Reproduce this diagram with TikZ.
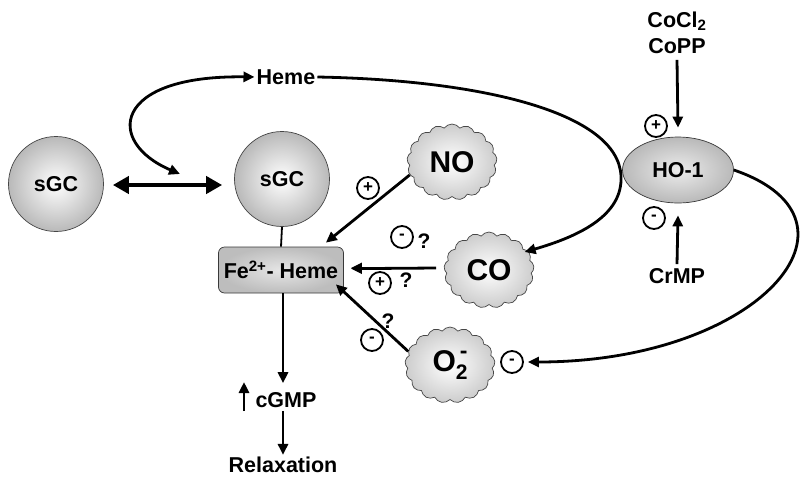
\documentclass[tikz,border=0pt]{standalone}
\usepackage{fontspec}
\setmainfont{Liberation Sans}
\usetikzlibrary{arrows.meta,shapes.symbols,shapes.geometric}
\newcommand\otwominus{O\rlap{\raisebox{-0.28em}{\fontsize{21}{21}\selectfont 2}}\raisebox{0.42em}{\fontsize{23}{23}\selectfont\,-}}
\begin{document}
\begin{tikzpicture}[x=1pt,y=-1pt,
  font=\fontsize{21.5}{25}\selectfont\bfseries,
  ball/.style={circle, draw=gray!55!black, line width=0.7pt, inner color=white, outer color=gray!55, minimum size=95pt, inner sep=0pt},
  puff/.style={cloud, cloud puffs=17, cloud puff arc=110, aspect=1.2, draw=gray!55!black, line width=0.7pt, inner color=white, outer color=gray!40, minimum width=90pt, minimum height=76pt, inner sep=0pt, font=\fontsize{30}{33}\selectfont\bfseries},
  febox/.style={rectangle, rounded corners=6pt, draw=gray!45!black, line width=0.7pt, inner color=gray!20, outer color=gray!52, minimum width=125pt, minimum height=46pt, inner sep=0pt},
  hoell/.style={ellipse, draw=gray!45!black, line width=0.7pt, inner color=gray!15, outer color=gray!55, minimum width=111pt, minimum height=66pt, inner sep=0pt},
  pm/.style={circle, draw, line width=1.8pt, minimum size=22pt, inner sep=0pt, font=\fontsize{17}{17}\selectfont\bfseries},
  qm/.style={font=\fontsize{21}{21}\selectfont\bfseries, inner sep=0pt},
  arr/.style={-{Triangle[length=11pt,width=10pt]}, line width=2.8pt},
  dbl/.style={{Triangle[length=16pt,width=17pt]}-{Triangle[length=16pt,width=17pt]}, line width=4.8pt}
]
\useasboundingbox (0,0) rectangle (800,483);

% nodes
\node[ball] (sgcL) at (56,184) {sGC};
\node[ball] (sgcR) at (282,179) {sGC};
\node[febox] (fe) at (281,270) {Fe\textsuperscript{2+}- Heme};
\node[inner sep=2pt] (heme) at (286,77) {Heme};
\node[puff] (no) at (452,162) {NO};
\node[puff] (co) at (489,270) {CO};
\node[puff] (o2) at (450,365) {\otwominus};
\node[hoell] (ho) at (678,170) {HO-1};
\node[inner sep=1pt] (cocl) at (677,21) {CoCl\textsubscript{2}};
\node[inner sep=1pt] (copp) at (677,46) {CoPP};
\node[inner sep=1pt] (crmp) at (677,276) {CrMP};
\node[inner sep=1pt] (cgmp) at (286,400) {cGMP};
\node[inner sep=1pt] (relax) at (283,465) {Relaxation};

\coordinate (up1) at (244,411);
\coordinate (up2) at (244,382);

% signs
\node[pm] (p1) at (368,188) {+};
\node[pm] (m1) at (402,237) {-};
\node[qm] (q1) at (424,241) {?};
\node[pm] (p2) at (380,283) {+};
\node[qm] (q2) at (406,280) {?};
\node[qm] (q3) at (388,321) {?};
\node[pm] (m2) at (372,340) {-};
\node[pm] (m4) at (512,362) {-};
\node[pm] (p3) at (656,126) {+};
\node[pm] (m3) at (654,218) {-};

% connectors
\draw[dbl] ([xshift=9pt,yshift=-1pt]sgcL.east) -- ([xshift=-12pt,yshift=-1pt]sgcL.east -| sgcR.west);
\draw[arr, {Triangle[length=11pt,width=10pt]}-{Triangle[length=11pt,width=10pt]}] (180,174) .. controls (105,142) and (112,75) .. (heme.west);
\draw[line width=1.8pt] (sgcR.south) -- (fe.north);
\draw[arr] (heme.east) .. controls (480,80) and (618,112) .. (621,176) .. controls (623,215) and (580,236) .. ([xshift=-2pt,yshift=-2pt]co.28);
\draw[arr] (no.197) -- ([xshift=-18pt,yshift=4pt]fe.north east);
\coordinate (cofrom) at ([xshift=-8pt,yshift=2pt]co.west);
\draw[arr] (cofrom) -- ([xshift=7pt,yshift=-22pt]fe.north east);
\draw[arr] (cofrom) -- ([xshift=7pt]fe.east |- cofrom);
\draw[arr] (o2.162) -- ([xshift=-8pt,yshift=9pt]fe.south east);
\draw[arr] ([xshift=2pt]fe.south) -- ([xshift=2pt,yshift=8pt]fe.south |- cgmp.north);
\draw[arr] (up1) -- (up2);
\draw[arr] ([xshift=-3pt,yshift=-2pt]cgmp.south) -- ([yshift=1pt]relax.north);
\draw[arr] (copp.south) ++(0,5) -- ([yshift=9pt]ho.north);
\draw[arr] ([yshift=3pt]crmp.north) -- ([yshift=-12pt]ho.south);
\draw[arr] (ho.east) .. controls (880,220) and (760,362) .. ([xshift=4pt]m4.east);
\end{tikzpicture}
\end{document}
